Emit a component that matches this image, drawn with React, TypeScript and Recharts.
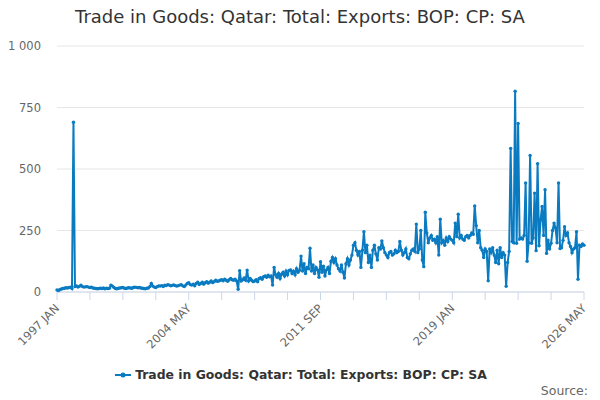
import { LineChart, Line, XAxis, YAxis, CartesianGrid } from 'recharts';

// Monthly values (Jan 1997 – May 2026)
const v1997 = [8, 6, 10, 12, 14, 15, 17, 16, 18, 20, 14, 690];
const v1998 = [22, 25, 20, 23, 28, 22, 20, 21, 22, 20, 18, 20];
const v1999 = [16, 15, 14, 13, 14, 15, 14, 16, 13, 15, 14, 15];
const v2000 = [28, 24, 18, 14, 13, 15, 16, 17, 18, 15, 14, 16];
const v2001 = [17, 16, 15, 18, 20, 19, 17, 18, 16, 15, 14, 13];
const v2002 = [15, 16, 22, 35, 24, 20, 18, 22, 25, 24, 26, 22];
const v2003 = [28, 26, 30, 28, 25, 27, 29, 26, 24, 26, 28, 30];
const v2004 = [25, 22, 28, 35, 38, 30, 28, 32, 25, 35, 40, 30];
const v2005 = [35, 40, 32, 38, 42, 36, 40, 45, 38, 42, 48, 44];
const v2006 = [45, 48, 50, 46, 52, 48, 44, 50, 55, 50, 48, 52];
const v2007 = [45, 11, 87, 45, 50, 57, 48, 89, 45, 55, 48, 42];
const v2008 = [45, 50, 42, 55, 58, 52, 62, 65, 60, 68, 62, 65];
const v2009 = [28, 100, 70, 60, 75, 55, 72, 80, 65, 85, 70, 88];
const v2010 = [90, 75, 85, 70, 95, 80, 88, 146, 85, 115, 75, 100];
const v2011 = [95, 178, 85, 110, 75, 100, 90, 60, 123, 80, 105, 65];
const v2012 = [90, 100, 75, 125, 140, 120, 135, 110, 95, 85, 110, 80];
const v2013 = [57, 115, 135, 110, 130, 150, 190, 200, 170, 150, 165, 100];
const v2014 = [170, 245, 160, 190, 120, 150, 100, 170, 190, 155, 130, 180];
const v2015 = [175, 208, 180, 160, 150, 140, 160, 165, 150, 155, 170, 160];
const v2016 = [165, 205, 170, 150, 160, 175, 140, 135, 155, 170, 175, 165];
const v2017 = [276, 160, 175, 250, 130, 103, 324, 240, 200, 220, 230, 210];
const v2018 = [215, 200, 225, 150, 296, 200, 210, 190, 220, 205, 225, 215];
const v2019 = [210, 200, 280, 225, 316, 220, 230, 215, 210, 225, 230, 220];
const v2020 = [230, 240, 235, 350, 270, 200, 250, 180, 170, 140, 175, 165];
const v2021 = [46, 175, 160, 180, 150, 120, 170, 115, 180, 140, 160, 150];
const v2022 = [23, 120, 165, 584, 205, 200, 816, 198, 685, 215, 220, 215];
const v2023 = [230, 443, 125, 200, 555, 198, 220, 402, 168, 522, 188, 293];
const v2024 = [348, 230, 416, 157, 211, 175, 198, 250, 280, 260, 200, 443];
const v2025 = [177, 180, 210, 265, 230, 240, 200, 185, 160, 175, 180, 245];
const v2026 = [52, 190, 185, 195, 190];

const values = [
  ...v1997, ...v1998, ...v1999, ...v2000, ...v2001, ...v2002, ...v2003, ...v2004,
  ...v2005, ...v2006, ...v2007, ...v2008, ...v2009, ...v2010, ...v2011, ...v2012,
  ...v2013, ...v2014, ...v2015, ...v2016, ...v2017, ...v2018, ...v2019, ...v2020,
  ...v2021, ...v2022, ...v2023, ...v2024, ...v2025, ...v2026,
];

// x tick labels, every 88 months from Jan 1997
const xLabels = ['1997 JAN', '2004 MAY', '2011 SEP', '2019 JAN', '2026 MAY'];
const yTicks = [0, 250, 500, 750, 1000];

const SERIES = 'Trade in Goods: Qatar: Total: Exports: BOP: CP: SA';
const COLOR = '#0b7bc1';
const FONT = '"DejaVu Sans", sans-serif';

const data = values.map((v, i) => ({ i, v }));
const lastIdx = values.length - 1;
const xTicks = Array.from({ length: lastIdx / 22 + 1 }, (_, k) => k * 22);

const XTick = ({ x, y, payload }: any) => {
  const idx = payload.value / 88;
  if (!Number.isInteger(idx)) return null;
  return (
    <text
      x={x + 3}
      y={y + 7}
      textAnchor="end"
      fontSize={11.5}
      fill="#666"
      fontFamily={FONT}
      transform={`rotate(-45, ${x + 3}, ${y + 7})`}
    >
      {xLabels[idx]}
    </text>
  );
};

if (typeof document !== 'undefined') document.body.style.margin = '0';

export default function App() {
  return (
    <div style={{ position: 'relative', width: 600, height: 400, background: '#fff', fontFamily: FONT }}>
      <div style={{ position: 'absolute', top: 6, left: 0, width: 600, textAlign: 'center', fontSize: 18, color: '#333' }}>
        {SERIES}
      </div>
      <LineChart width={600} height={400} data={data} margin={{ top: 46, right: 16, bottom: 28, left: 0 }}>
        <CartesianGrid stroke="#e6e6e6" vertical={false} />
        <XAxis
          dataKey="i"
          type="number"
          domain={[0, lastIdx]}
          ticks={xTicks}
          interval={0}
          height={80}
          stroke="#ccd6eb"
          tickLine={{ stroke: '#ccd6eb' }}
          tickSize={8}
          tick={<XTick />}
        />
        <YAxis
          domain={[0, 1000]}
          ticks={yTicks}
          width={57}
          axisLine={false}
          tickLine={false}
          tickMargin={10}
          tick={{ fill: '#666', fontSize: 11.5, fontFamily: FONT }}
          tickFormatter={(v: number) => (v >= 1000 ? v.toLocaleString('en-US').replace(',', ' ') : String(v))}
        />
        <Line
          dataKey="v"
          stroke={COLOR}
          strokeWidth={2}
          dot={{ r: 1.7, fill: COLOR, stroke: 'none' }}
          isAnimationActive={false}
        />
      </LineChart>
      <div style={{ position: 'absolute', top: 367, left: 0, width: 600, display: 'flex', justifyContent: 'center', alignItems: 'center' }}>
        <svg width={20} height={12} style={{ marginRight: 2 }}>
          <line x1={2} y1={6} x2={18} y2={6} stroke={COLOR} strokeWidth={2} />
          <circle cx={10} cy={6} r={2.5} fill={COLOR} />
        </svg>
        <span style={{ fontSize: 12.4, fontWeight: 'bold', color: '#333' }}>{SERIES}</span>
      </div>
      <div style={{ position: 'absolute', top: 383, right: 12, fontSize: 12.5, color: '#666' }}>Source:</div>
    </div>
  );
}
